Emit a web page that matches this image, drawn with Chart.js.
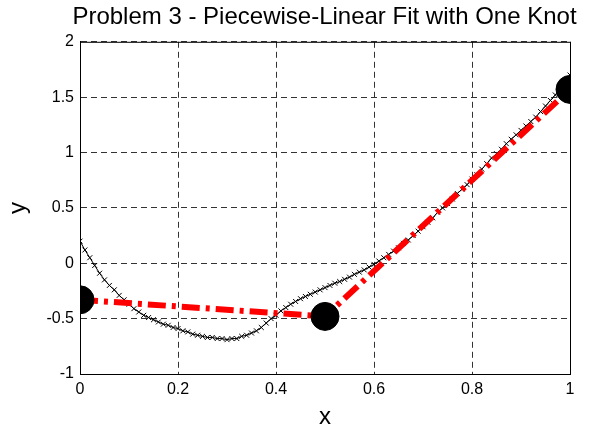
<!DOCTYPE html>
<html>
<head>
<meta charset="utf-8">
<script src="https://cdn.jsdelivr.net/npm/chart.js@4.4.1/dist/chart.umd.min.js"></script>
<style>
  html, body { margin: 0; padding: 0; background: #fff; }
  #wrap { width: 605px; height: 436px; }
</style>
</head>
<body>
<div id="wrap"><canvas id="myChart"></canvas></div>
<script>
// sampled data (x from 0 to 1, step 0.01)
const xs = [];
for (let i = 0; i <= 100; i++) xs.push(i / 100);
const ys = [
  0.20, 0.12, 0.05, -0.02, -0.09, -0.15, -0.20, -0.24, -0.29, -0.33,
  -0.37, -0.41, -0.44, -0.47, -0.49, -0.51, -0.53, -0.55, -0.56, -0.58,
  -0.59, -0.61, -0.62, -0.64, -0.65, -0.66, -0.67, -0.67, -0.68, -0.68,
  -0.69, -0.68, -0.68, -0.66, -0.65, -0.63, -0.61, -0.58, -0.54, -0.50,
  -0.47, -0.43, -0.40, -0.37, -0.345, -0.32, -0.30, -0.28, -0.26, -0.24,
  -0.22, -0.20, -0.18, -0.165, -0.145, -0.125, -0.10, -0.08, -0.06, -0.035,
  -0.01, 0.02, 0.05, 0.08, 0.11, 0.14, 0.18, 0.21, 0.25, 0.29,
  0.33, 0.37, 0.41, 0.46, 0.50, 0.54, 0.58, 0.63, 0.67, 0.71,
  0.76, 0.80, 0.85, 0.90, 0.95, 0.99, 1.03, 1.08, 1.12, 1.16,
  1.20, 1.24, 1.28, 1.32, 1.37, 1.42, 1.47, 1.52, 1.58, 1.64,
  1.70
];

// knots of the piecewise-linear fit
const knotX = [0, 0.5, 1];
const knotY = [-0.33, -0.48, 1.57];

const xTicks = [0, 0.2, 0.4, 0.6, 0.8, 1];
const yTicks = [-1, -0.5, 0, 0.5, 1, 1.5, 2];

const toPts = (a, b) => a.map((v, i) => ({ x: v, y: b[i] }));
const fmt = v => String(+Number(v).toFixed(2));

// draws the box round the plot area (MATLAB style)
const boxPlugin = {
  id: 'box',
  afterDatasetsDraw(chart) {
    const { ctx, chartArea: a } = chart;
    ctx.save();
    ctx.strokeStyle = '#000';
    ctx.lineWidth = 1;
    ctx.strokeRect(a.left + 0.5, a.top + 0.5, a.right - a.left, a.bottom - a.top);
    ctx.restore();
  }
};

const font = { family: 'Arial, "Liberation Sans", sans-serif', size: 16 };

new Chart(document.getElementById('myChart'), {
  type: 'scatter',
  data: {
    datasets: [
      {
        data: toPts(knotX, knotY),
        showLine: false,
        pointStyle: 'circle',
        pointRadius: 14,
        pointBackgroundColor: '#000',
        pointBorderColor: '#000',
        order: 0
      },
      {
        data: toPts(knotX, knotY),
        showLine: true,
        borderColor: 'rgb(255,0,0)',
        borderWidth: 6,
        borderDash: [18, 6, 4, 6],
        pointRadius: 0,
        order: 1
      },
      {
        data: toPts(xs, ys),
        showLine: true,
        borderColor: '#000',
        borderWidth: 1,
        pointStyle: 'crossRot',
        pointRadius: 3.5,
        pointBorderColor: '#000',
        pointBorderWidth: 1,
        order: 2
      }
    ]
  },
  options: {
    responsive: true,
    maintainAspectRatio: false,
    animation: false,
    // left padding centres the title over the plot; the empty right axis keeps the plot edge at 570
    layout: { padding: { left: 44, right: 0, top: 0, bottom: 0 } },
    plugins: {
      legend: { display: false },
      tooltip: { enabled: false },
      title: {
        display: true,
        text: 'Problem 3 - Piecewise-Linear Fit with One Knot',
        color: '#000',
        font: { family: font.family, size: 24, weight: 'normal' },
        padding: { top: 3, bottom: 10 }
      }
    },
    scales: {
      x: {
        type: 'linear',
        min: 0,
        max: 1,
        afterBuildTicks: s => { s.ticks = xTicks.map(v => ({ value: v })); },
        afterFit: s => { s.height = 62; },
        grid: { color: '#333', lineWidth: 1, drawTicks: false },
        border: { display: true, color: '#000', dash: [6, 4] },
        ticks: { color: '#000', font: font, padding: 6, callback: fmt },
        title: { display: true, text: 'x', color: '#000', font: { family: font.family, size: 24 }, padding: { top: 2 } }
      },
      y: {
        type: 'linear',
        min: -1,
        max: 2,
        afterBuildTicks: s => { s.ticks = yTicks.map(v => ({ value: v })); },
        afterFit: s => { s.width = 36; },
        grid: { color: '#333', lineWidth: 1, drawTicks: false },
        border: { display: true, color: '#000', dash: [6, 4] },
        ticks: { color: '#000', font: font, padding: 6, callback: fmt },
        title: { display: true, text: 'y', color: '#000', font: { family: font.family, size: 24 }, padding: { top: -40, bottom: 0 } }
      },
      y2: {
        type: 'linear',
        position: 'right',
        display: true,
        afterFit: s => { s.width = 35; },
        grid: { display: false, drawTicks: false },
        border: { display: false },
        ticks: { display: false }
      }
    }
  },
  plugins: [boxPlugin]
});
</script>
</body>
</html>
